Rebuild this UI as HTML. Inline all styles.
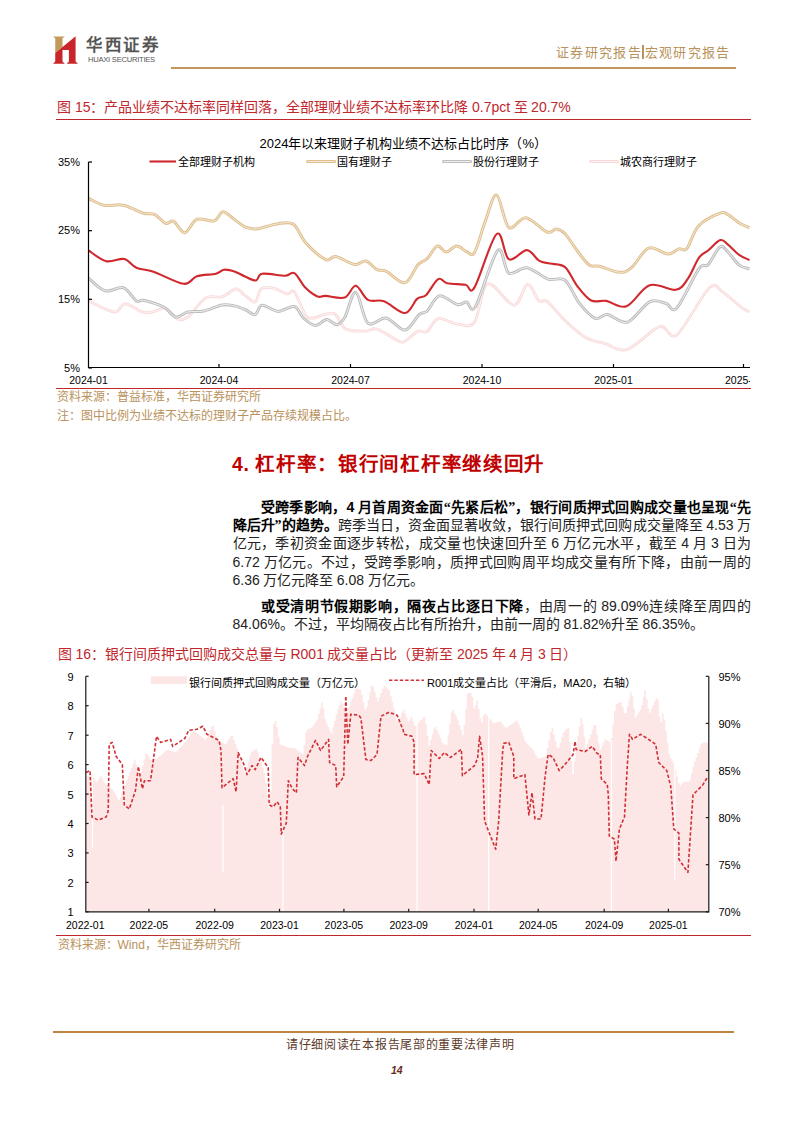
<!DOCTYPE html>
<html lang="zh-CN"><head><meta charset="utf-8">
<style>
html,body{margin:0;padding:0;background:#fff;}
body{width:794px;height:1123px;position:relative;overflow:hidden;font-family:"Liberation Serif",serif;color:#000;}
.abs{position:absolute;}
.t{position:absolute;white-space:nowrap;line-height:1;}
.sans{font-family:"Liberation Sans",sans-serif;}
.cap{color:#c0272d;font-size:14px;}
.src{color:#b9925c;font-size:12px;}
.ln{position:absolute;left:232.5px;width:518.5px;font-size:14px;line-height:18px;color:#222;white-space:nowrap;text-align:justify;text-align-last:justify;}
.ln.nl{text-align-last:left;}
b{font-weight:bold;color:#000;}
.ax{font-family:"Liberation Sans",sans-serif;font-size:10.5px;color:#000;line-height:1;position:absolute;white-space:nowrap;}
</style></head><body>
<!-- header -->
<svg class="abs" style="left:48px;top:32px" width="36" height="36" viewBox="0 0 36 36">
<path d="M5,4.4 H16.8 L14.5,6.3 V15 L7.25,20.9 V6.3 Z" fill="#c39a5a"/>
<path d="M7.25,20.9 L27.6,4.3 V29.6 L30,31.7 H18.6 L20.9,29.6 V17.9 H14.5 V29.6 L16.8,31.7 H5 L7.25,29.6 Z" fill="#c8262b"/>
</svg>
<div class="t" style="left:86px;top:37.5px;font-size:16.5px;font-weight:bold;color:#555;letter-spacing:1.6px;">华西证券</div>
<div class="t sans" style="left:88px;top:56.3px;font-size:7.6px;color:#555;letter-spacing:-0.25px;">HUAXI SECURITIES</div>
<div class="abs" style="left:171px;top:67px;width:565px;height:2px;background:#c5955a;"></div>
<div class="t" style="left:556px;top:45px;font-size:13px;color:#b9925c;letter-spacing:1.35px;">证券研究报告<span style="display:inline-block;width:1.6px;height:14px;background:#b9925c;vertical-align:-2px;margin:0 1px 0 0"></span>宏观研究报告</div>

<!-- figure 15 caption -->
<div class="t cap" style="left:57px;top:100px;"><span class="sans">图 15</span>：产品业绩不达标率同样回落，全部理财业绩不达标率环比降 <span class="sans">0.7pct</span> 至 <span class="sans">20.7%</span></div>
<div class="abs" style="left:56px;top:119px;width:695px;height:1px;background:#c0272d;"></div>

<svg class="abs" style="left:0;top:0" width="794" height="420" viewBox="0 0 794 420">
<path d="M88.6,300.9 C92.9,302.8 108.1,311.5 114.2,312.0 C120.3,312.5 120.4,303.8 125.3,303.9 C130.2,304.0 138.5,311.1 143.4,312.4 C148.3,313.6 150.8,312.1 154.5,311.4 C158.2,310.7 161.7,306.7 165.6,308.0 C169.5,309.3 174.0,317.5 177.7,319.0 C181.4,320.5 183.1,320.5 187.8,317.0 C192.5,313.5 200.2,301.2 205.9,297.9 C211.6,294.5 217.0,298.4 222.0,296.9 C227.0,295.4 232.3,289.1 236.1,288.8 C239.9,288.6 241.8,293.2 245.0,295.4 C248.2,297.6 252.4,303.0 255.1,301.9 C257.8,300.8 258.1,291.1 261.1,288.8 C264.1,286.5 268.8,287.4 273.2,288.2 C277.6,289.0 283.8,293.3 287.3,293.9 C290.8,294.5 291.4,288.3 294.4,291.8 C297.4,295.3 302.3,310.6 305.5,315.0 C308.7,319.4 308.8,318.3 313.5,318.0 C318.2,317.7 328.3,311.5 333.7,313.4 C339.1,315.2 340.4,326.2 345.8,329.1 C351.2,332.1 360.7,331.1 365.9,331.1 C371.1,331.1 371.6,327.5 377.0,329.1 C382.4,330.7 393.4,338.8 398.1,340.8 C402.8,342.8 401.7,342.8 405.0,341.2 C408.3,339.6 414.4,332.7 418.1,331.1 C421.8,329.5 423.9,333.6 427.2,331.5 C430.5,329.4 433.2,319.8 438.2,318.6 C443.2,317.4 451.3,323.5 457.4,324.1 C463.4,324.7 469.5,328.8 474.5,322.1 C479.5,315.4 481.1,286.6 487.6,283.8 C494.2,281.0 507.1,305.2 513.8,305.3 C520.4,305.4 523.3,285.1 527.5,284.4 C531.7,283.7 535.7,298.1 539.0,300.9 C542.3,303.7 542.8,298.0 547.1,301.3 C551.4,304.6 558.6,314.5 565.0,320.5 C571.4,326.5 578.5,333.3 585.2,337.2 C591.9,341.1 598.2,341.6 605.3,343.6 C612.3,345.6 618.4,352.1 627.5,349.3 C636.6,346.5 651.5,329.1 659.7,326.7 C667.9,324.3 668.5,341.2 676.8,334.8 C685.0,328.4 701.6,295.1 709.2,288.0 C716.8,280.9 717.1,288.7 722.4,291.9 C727.7,295.1 736.6,303.9 741.1,307.2 C745.6,310.5 748.1,311.1 749.5,311.9" fill="none" stroke="#f9d9d9" stroke-width="2.8" stroke-linejoin="round"/>
<path d="M88.6,300.9 C92.9,302.8 108.1,311.5 114.2,312.0 C120.3,312.5 120.4,303.8 125.3,303.9 C130.2,304.0 138.5,311.1 143.4,312.4 C148.3,313.6 150.8,312.1 154.5,311.4 C158.2,310.7 161.7,306.7 165.6,308.0 C169.5,309.3 174.0,317.5 177.7,319.0 C181.4,320.5 183.1,320.5 187.8,317.0 C192.5,313.5 200.2,301.2 205.9,297.9 C211.6,294.5 217.0,298.4 222.0,296.9 C227.0,295.4 232.3,289.1 236.1,288.8 C239.9,288.6 241.8,293.2 245.0,295.4 C248.2,297.6 252.4,303.0 255.1,301.9 C257.8,300.8 258.1,291.1 261.1,288.8 C264.1,286.5 268.8,287.4 273.2,288.2 C277.6,289.0 283.8,293.3 287.3,293.9 C290.8,294.5 291.4,288.3 294.4,291.8 C297.4,295.3 302.3,310.6 305.5,315.0 C308.7,319.4 308.8,318.3 313.5,318.0 C318.2,317.7 328.3,311.5 333.7,313.4 C339.1,315.2 340.4,326.2 345.8,329.1 C351.2,332.1 360.7,331.1 365.9,331.1 C371.1,331.1 371.6,327.5 377.0,329.1 C382.4,330.7 393.4,338.8 398.1,340.8 C402.8,342.8 401.7,342.8 405.0,341.2 C408.3,339.6 414.4,332.7 418.1,331.1 C421.8,329.5 423.9,333.6 427.2,331.5 C430.5,329.4 433.2,319.8 438.2,318.6 C443.2,317.4 451.3,323.5 457.4,324.1 C463.4,324.7 469.5,328.8 474.5,322.1 C479.5,315.4 481.1,286.6 487.6,283.8 C494.2,281.0 507.1,305.2 513.8,305.3 C520.4,305.4 523.3,285.1 527.5,284.4 C531.7,283.7 535.7,298.1 539.0,300.9 C542.3,303.7 542.8,298.0 547.1,301.3 C551.4,304.6 558.6,314.5 565.0,320.5 C571.4,326.5 578.5,333.3 585.2,337.2 C591.9,341.1 598.2,341.6 605.3,343.6 C612.3,345.6 618.4,352.1 627.5,349.3 C636.6,346.5 651.5,329.1 659.7,326.7 C667.9,324.3 668.5,341.2 676.8,334.8 C685.0,328.4 701.6,295.1 709.2,288.0 C716.8,280.9 717.1,288.7 722.4,291.9 C727.7,295.1 736.6,303.9 741.1,307.2 C745.6,310.5 748.1,311.1 749.5,311.9" fill="none" stroke="#fff5f5" stroke-width="1" stroke-linejoin="round"/>
<path d="M88.6,278.1 C91.4,280.2 99.4,289.2 105.2,290.8 C111.0,292.4 118.1,286.1 123.3,287.8 C128.5,289.5 133.1,298.8 136.4,300.9 C139.8,303.0 138.9,299.3 143.4,300.3 C147.9,301.3 158.2,304.2 163.6,307.0 C169.0,309.8 171.7,316.2 175.7,317.0 C179.7,317.8 183.1,313.0 187.8,312.0 C192.5,311.0 198.2,312.2 203.9,311.0 C209.6,309.8 217.0,305.8 222.0,304.9 C227.0,304.0 230.3,305.1 234.1,305.9 C237.9,306.7 241.5,308.1 245.0,309.5 C248.5,310.9 252.2,315.3 255.1,314.6 C257.9,313.9 258.2,305.8 262.1,305.3 C266.0,304.8 272.8,311.2 278.2,311.4 C283.6,311.6 290.2,305.4 294.4,306.5 C298.6,307.6 299.9,314.8 303.4,318.0 C306.9,321.2 311.6,325.2 315.5,325.5 C319.4,325.8 323.1,319.7 326.6,319.6 C330.1,319.5 333.7,325.0 336.7,324.7 C339.7,324.4 341.5,323.0 344.7,317.6 C347.9,312.2 351.9,291.5 355.8,292.4 C359.7,293.3 362.8,318.8 367.9,323.1 C372.9,327.4 379.9,316.8 386.1,318.0 C392.3,319.2 399.5,330.7 405.0,330.1 C410.5,329.5 415.4,317.8 419.1,314.6 C422.8,311.4 423.8,314.1 427.2,311.0 C430.6,307.9 434.3,297.0 439.3,295.9 C444.3,294.8 452.9,303.5 457.4,304.5 C461.9,305.5 463.5,301.6 466.5,301.9 C469.5,302.2 470.3,315.1 475.5,306.5 C480.7,297.9 492.1,256.1 497.7,250.5 C503.2,244.9 503.9,270.2 508.8,273.1 C513.7,276.0 520.4,266.7 526.9,267.7 C533.4,268.7 541.8,277.0 548.1,279.1 C554.5,281.2 559.8,276.3 565.0,280.3 C570.2,284.3 574.1,296.5 579.1,302.9 C584.1,309.2 590.5,316.4 595.2,318.4 C599.9,320.3 601.9,314.0 607.3,314.6 C612.7,315.2 620.5,324.2 627.5,322.1 C634.5,320.0 643.2,305.0 649.6,301.9 C656.0,298.8 661.3,302.3 665.8,303.3 C670.3,304.3 671.3,313.8 676.8,308.0 C682.3,302.2 693.8,275.9 699.0,268.7 C704.2,261.5 704.6,268.2 708.1,264.6 C711.6,261.0 716.7,249.0 720.0,246.9 C723.3,244.8 724.8,249.0 728.0,252.0 C731.2,255.0 735.6,262.3 739.2,265.1 C742.8,267.9 747.8,268.3 749.5,268.9" fill="none" stroke="#bdbdbd" stroke-width="3" stroke-linejoin="round"/>
<path d="M88.6,278.1 C91.4,280.2 99.4,289.2 105.2,290.8 C111.0,292.4 118.1,286.1 123.3,287.8 C128.5,289.5 133.1,298.8 136.4,300.9 C139.8,303.0 138.9,299.3 143.4,300.3 C147.9,301.3 158.2,304.2 163.6,307.0 C169.0,309.8 171.7,316.2 175.7,317.0 C179.7,317.8 183.1,313.0 187.8,312.0 C192.5,311.0 198.2,312.2 203.9,311.0 C209.6,309.8 217.0,305.8 222.0,304.9 C227.0,304.0 230.3,305.1 234.1,305.9 C237.9,306.7 241.5,308.1 245.0,309.5 C248.5,310.9 252.2,315.3 255.1,314.6 C257.9,313.9 258.2,305.8 262.1,305.3 C266.0,304.8 272.8,311.2 278.2,311.4 C283.6,311.6 290.2,305.4 294.4,306.5 C298.6,307.6 299.9,314.8 303.4,318.0 C306.9,321.2 311.6,325.2 315.5,325.5 C319.4,325.8 323.1,319.7 326.6,319.6 C330.1,319.5 333.7,325.0 336.7,324.7 C339.7,324.4 341.5,323.0 344.7,317.6 C347.9,312.2 351.9,291.5 355.8,292.4 C359.7,293.3 362.8,318.8 367.9,323.1 C372.9,327.4 379.9,316.8 386.1,318.0 C392.3,319.2 399.5,330.7 405.0,330.1 C410.5,329.5 415.4,317.8 419.1,314.6 C422.8,311.4 423.8,314.1 427.2,311.0 C430.6,307.9 434.3,297.0 439.3,295.9 C444.3,294.8 452.9,303.5 457.4,304.5 C461.9,305.5 463.5,301.6 466.5,301.9 C469.5,302.2 470.3,315.1 475.5,306.5 C480.7,297.9 492.1,256.1 497.7,250.5 C503.2,244.9 503.9,270.2 508.8,273.1 C513.7,276.0 520.4,266.7 526.9,267.7 C533.4,268.7 541.8,277.0 548.1,279.1 C554.5,281.2 559.8,276.3 565.0,280.3 C570.2,284.3 574.1,296.5 579.1,302.9 C584.1,309.2 590.5,316.4 595.2,318.4 C599.9,320.3 601.9,314.0 607.3,314.6 C612.7,315.2 620.5,324.2 627.5,322.1 C634.5,320.0 643.2,305.0 649.6,301.9 C656.0,298.8 661.3,302.3 665.8,303.3 C670.3,304.3 671.3,313.8 676.8,308.0 C682.3,302.2 693.8,275.9 699.0,268.7 C704.2,261.5 704.6,268.2 708.1,264.6 C711.6,261.0 716.7,249.0 720.0,246.9 C723.3,244.8 724.8,249.0 728.0,252.0 C731.2,255.0 735.6,262.3 739.2,265.1 C742.8,267.9 747.8,268.3 749.5,268.9" fill="none" stroke="#f0f0f0" stroke-width="1" stroke-linejoin="round"/>
<path d="M88.6,198.5 C91.2,199.6 98.3,204.1 104.1,205.2 C109.9,206.3 116.8,203.9 123.3,205.2 C129.8,206.5 138.2,211.7 143.4,213.2 C148.6,214.7 150.8,212.6 154.5,214.3 C158.2,216.0 162.4,222.1 165.6,223.3 C168.8,224.5 170.5,219.7 173.7,221.3 C176.9,222.9 180.8,233.1 184.7,232.8 C188.5,232.5 191.9,221.3 196.8,219.3 C201.7,217.3 209.6,222.2 214.0,220.9 C218.4,219.7 219.7,212.1 223.0,211.8 C226.3,211.5 230.4,216.8 234.1,219.3 C237.8,221.8 241.3,225.2 245.0,226.8 C248.7,228.4 250.7,229.5 256.1,229.0 C261.5,228.5 271.0,224.7 277.2,223.9 C283.4,223.1 288.7,221.2 293.4,224.3 C298.1,227.4 300.1,236.6 305.5,242.5 C310.9,248.4 320.6,257.2 325.6,259.6 C330.6,262.0 330.8,255.8 335.7,256.6 C340.6,257.4 349.8,263.9 354.8,264.6 C359.8,265.3 362.2,260.1 365.9,261.0 C369.6,261.9 373.6,268.0 377.0,269.7 C380.4,271.4 381.4,268.9 386.1,271.1 C390.8,273.3 399.7,283.9 405.0,282.8 C410.3,281.7 414.4,268.6 418.1,264.6 C421.8,260.6 424.0,261.7 427.2,258.6 C430.4,255.5 434.0,247.2 437.2,246.1 C440.4,245.0 443.1,252.1 446.3,252.1 C449.5,252.1 453.0,246.2 456.4,246.1 C459.8,246.0 463.5,250.4 466.5,251.5 C469.5,252.6 471.3,257.7 474.5,252.5 C477.7,247.3 481.9,229.9 485.6,220.3 C489.3,210.7 492.8,193.9 496.7,195.1 C500.6,196.3 503.9,223.6 508.8,227.4 C513.7,231.2 519.5,216.9 525.9,217.7 C532.3,218.5 542.1,230.1 547.1,232.0 C552.1,233.9 553.1,228.7 556.1,229.0 C559.1,229.3 561.5,230.1 565.0,233.7 C568.5,237.3 573.1,245.3 577.1,250.5 C581.1,255.7 585.5,262.4 589.2,265.0 C592.9,267.6 594.3,265.0 599.3,266.2 C604.3,267.4 614.0,272.1 619.4,272.3 C624.8,272.6 626.6,271.7 631.5,267.7 C636.4,263.7 642.6,250.4 648.6,248.1 C654.6,245.8 662.8,253.9 667.8,254.0 C672.8,254.1 675.7,249.8 678.9,248.9 C682.1,248.0 683.6,252.3 686.9,248.5 C690.2,244.7 693.0,231.9 698.5,226.0 C704.0,220.1 715.1,215.1 720.0,213.2 C724.9,211.3 724.8,213.0 728.0,214.6 C731.2,216.2 735.6,220.8 739.2,223.0 C742.8,225.2 747.8,226.9 749.5,227.7" fill="none" stroke="#dfbf8f" stroke-width="3" stroke-linejoin="round"/>
<path d="M88.6,198.5 C91.2,199.6 98.3,204.1 104.1,205.2 C109.9,206.3 116.8,203.9 123.3,205.2 C129.8,206.5 138.2,211.7 143.4,213.2 C148.6,214.7 150.8,212.6 154.5,214.3 C158.2,216.0 162.4,222.1 165.6,223.3 C168.8,224.5 170.5,219.7 173.7,221.3 C176.9,222.9 180.8,233.1 184.7,232.8 C188.5,232.5 191.9,221.3 196.8,219.3 C201.7,217.3 209.6,222.2 214.0,220.9 C218.4,219.7 219.7,212.1 223.0,211.8 C226.3,211.5 230.4,216.8 234.1,219.3 C237.8,221.8 241.3,225.2 245.0,226.8 C248.7,228.4 250.7,229.5 256.1,229.0 C261.5,228.5 271.0,224.7 277.2,223.9 C283.4,223.1 288.7,221.2 293.4,224.3 C298.1,227.4 300.1,236.6 305.5,242.5 C310.9,248.4 320.6,257.2 325.6,259.6 C330.6,262.0 330.8,255.8 335.7,256.6 C340.6,257.4 349.8,263.9 354.8,264.6 C359.8,265.3 362.2,260.1 365.9,261.0 C369.6,261.9 373.6,268.0 377.0,269.7 C380.4,271.4 381.4,268.9 386.1,271.1 C390.8,273.3 399.7,283.9 405.0,282.8 C410.3,281.7 414.4,268.6 418.1,264.6 C421.8,260.6 424.0,261.7 427.2,258.6 C430.4,255.5 434.0,247.2 437.2,246.1 C440.4,245.0 443.1,252.1 446.3,252.1 C449.5,252.1 453.0,246.2 456.4,246.1 C459.8,246.0 463.5,250.4 466.5,251.5 C469.5,252.6 471.3,257.7 474.5,252.5 C477.7,247.3 481.9,229.9 485.6,220.3 C489.3,210.7 492.8,193.9 496.7,195.1 C500.6,196.3 503.9,223.6 508.8,227.4 C513.7,231.2 519.5,216.9 525.9,217.7 C532.3,218.5 542.1,230.1 547.1,232.0 C552.1,233.9 553.1,228.7 556.1,229.0 C559.1,229.3 561.5,230.1 565.0,233.7 C568.5,237.3 573.1,245.3 577.1,250.5 C581.1,255.7 585.5,262.4 589.2,265.0 C592.9,267.6 594.3,265.0 599.3,266.2 C604.3,267.4 614.0,272.1 619.4,272.3 C624.8,272.6 626.6,271.7 631.5,267.7 C636.4,263.7 642.6,250.4 648.6,248.1 C654.6,245.8 662.8,253.9 667.8,254.0 C672.8,254.1 675.7,249.8 678.9,248.9 C682.1,248.0 683.6,252.3 686.9,248.5 C690.2,244.7 693.0,231.9 698.5,226.0 C704.0,220.1 715.1,215.1 720.0,213.2 C724.9,211.3 724.8,213.0 728.0,214.6 C731.2,216.2 735.6,220.8 739.2,223.0 C742.8,225.2 747.8,226.9 749.5,227.7" fill="none" stroke="#f6ead6" stroke-width="1" stroke-linejoin="round"/>
<path d="M88.6,250.5 C91.5,252.3 100.2,259.8 106.2,261.2 C112.2,262.6 119.3,257.9 124.3,259.0 C129.3,260.1 131.5,265.6 136.4,267.7 C141.3,269.8 145.6,269.0 153.5,271.7 C161.4,274.4 176.5,283.0 183.7,283.8 C190.9,284.6 191.4,278.0 196.8,276.3 C202.2,274.6 211.5,274.8 216.0,273.7 C220.5,272.6 220.8,270.0 224.0,269.7 C227.2,269.4 231.6,270.6 235.1,271.7 C238.6,272.8 241.5,275.1 245.0,276.5 C248.5,277.9 253.3,280.9 256.1,280.4 C259.0,279.9 257.2,274.5 262.1,273.7 C267.0,272.9 279.9,275.8 285.3,275.7 C290.7,275.6 291.0,271.1 294.4,273.1 C297.8,275.1 301.6,283.9 305.5,287.8 C309.4,291.7 314.1,295.1 317.5,296.5 C320.9,297.9 321.1,295.7 325.6,295.9 C330.1,296.1 339.7,299.2 344.7,297.5 C349.7,295.8 351.9,285.4 355.8,285.8 C359.7,286.2 363.2,297.3 367.9,299.9 C372.6,302.5 377.8,299.1 384.0,301.3 C390.2,303.5 399.5,313.4 405.0,313.0 C410.5,312.6 413.6,301.9 417.1,298.9 C420.6,295.9 422.7,298.2 426.2,294.9 C429.7,291.6 434.7,281.1 438.2,279.1 C441.7,277.2 442.8,282.2 447.3,283.2 C451.9,284.1 461.0,284.1 465.5,284.8 C470.0,285.5 469.3,295.9 474.5,287.4 C479.7,278.9 491.0,238.7 496.7,234.0 C502.4,229.3 503.8,256.5 508.8,259.2 C513.8,261.9 521.9,249.9 526.9,250.1 C531.9,250.3 535.1,258.4 539.0,260.6 C542.9,262.9 545.8,262.5 550.1,263.6 C554.4,264.7 560.5,263.4 565.0,267.1 C569.5,270.8 572.7,280.2 577.1,285.8 C581.5,291.4 586.3,298.0 591.2,300.5 C596.1,303.0 600.4,299.9 606.3,300.9 C612.2,301.9 619.3,308.9 626.5,306.3 C633.7,303.7 641.4,287.9 649.6,285.2 C657.8,282.4 669.4,290.9 675.8,289.8 C682.2,288.7 684.0,284.1 687.9,278.7 C691.8,273.3 695.6,262.3 699.0,257.6 C702.4,252.9 704.6,253.4 708.1,250.5 C711.6,247.6 717.0,241.1 720.3,240.1 C723.6,239.1 724.9,242.1 728.0,244.6 C731.1,247.1 735.6,252.3 739.2,254.9 C742.8,257.5 747.8,259.2 749.5,260.1" fill="none" stroke="#cf292e" stroke-width="2.1" stroke-linejoin="round"/>
<path d="M88.5,162 V367.5 H750" fill="none" stroke="#000" stroke-width="1.2"/>
<path d="M88.5,162.0 H92" stroke="#000" stroke-width="1.2"/>
<path d="M88.5,230.7 H92" stroke="#000" stroke-width="1.2"/>
<path d="M88.5,299.3 H92" stroke="#000" stroke-width="1.2"/>
<path d="M88.5,368.0 H92" stroke="#000" stroke-width="1.2"/>
<path d="M219.0,367.5 V364" stroke="#000" stroke-width="1.2"/>
<path d="M350.5,367.5 V364" stroke="#000" stroke-width="1.2"/>
<path d="M482.0,367.5 V364" stroke="#000" stroke-width="1.2"/>
<path d="M613.5,367.5 V364" stroke="#000" stroke-width="1.2"/>
<path d="M743.5,367.5 V364" stroke="#000" stroke-width="1.2"/>
<path d="M149.5,161.5 H176" stroke="#cf292e" stroke-width="2.1"/>
<path d="M307.5,161.5 H334.5" stroke="#dfbf8f" stroke-width="3" stroke-linecap="round"/><path d="M307.5,161.5 H334.5" stroke="#f6ead6" stroke-width="1"/>
<path d="M443.5,161.5 H470.5" stroke="#bdbdbd" stroke-width="3" stroke-linecap="round"/><path d="M443.5,161.5 H470.5" stroke="#f0f0f0" stroke-width="1"/>
<path d="M590.5,161.5 H617.5" stroke="#f9d9d9" stroke-width="2.8" stroke-linecap="round"/><path d="M590.5,161.5 H617.5" stroke="#fff5f5" stroke-width="1"/>
</svg>
<div class="t sans" style="left:259.5px;top:137px;font-size:13px;color:#000;">2024年以来理财子机构业绩不达标占比时序（%）</div>
<div class="t sans" style="left:178px;top:157px;font-size:11px;">全部理财子机构</div>
<div class="t sans" style="left:336.5px;top:157px;font-size:11px;">国有理财子</div>
<div class="t sans" style="left:472.5px;top:157px;font-size:11px;">股份行理财子</div>
<div class="t sans" style="left:620px;top:157px;font-size:11px;">城农商行理财子</div>
<div class="ax" style="left:38px;width:42px;text-align:right;top:156.5px;font-size:11px;">35%</div>
<div class="ax" style="left:38px;width:42px;text-align:right;top:225.2px;font-size:11px;">25%</div>
<div class="ax" style="left:38px;width:42px;text-align:right;top:293.8px;font-size:11px;">15%</div>
<div class="ax" style="left:38px;width:42px;text-align:right;top:362.5px;font-size:11px;">5%</div>
<div class="ax" style="left:48.5px;width:80px;text-align:center;top:374.5px;">2024-01</div>
<div class="ax" style="left:179px;width:80px;text-align:center;top:374.5px;">2024-04</div>
<div class="ax" style="left:310.5px;width:80px;text-align:center;top:374.5px;">2024-07</div>
<div class="ax" style="left:442px;width:80px;text-align:center;top:374.5px;">2024-10</div>
<div class="ax" style="left:573.5px;width:80px;text-align:center;top:374.5px;">2025-01</div>
<div class="abs" style="left:700px;top:370px;width:50px;height:20px;overflow:hidden;"><div class="ax" style="left:25px;top:4.5px;">2025-04</div></div>
<div class="abs" style="left:56px;top:388px;width:695px;height:1px;background:#c0272d;"></div>
<div class="t src" style="left:56.5px;top:391px;">资料来源：普益标准，华西证券研究所</div>
<div class="t src" style="left:56.5px;top:410px;">注：图中比例为业绩不达标的理财子产品存续规模占比。</div>

<!-- section heading -->
<div class="t" style="left:232px;top:455px;font-size:19.5px;font-weight:bold;color:#c00000;letter-spacing:0.7px;"><span class="sans">4.</span> 杠杆率：银行间杠杆率继续回升</div>

<!-- paragraph 1 -->
<div class="ln" style="top:498px;"><span style="display:inline-block;width:28px"></span><b>受跨季影响，<span class="sans">4</span> 月首周资金面“先紧后松”，银行间质押式回购成交量也呈现“先</b></div>
<div class="ln" style="top:516.2px;"><b>降后升”的趋势。</b>跨季当日，资金面显著收敛，银行间质押式回购成交量降至 <span class="sans">4.53</span> 万</div>
<div class="ln" style="top:534.4px;">亿元，季初资金面逐步转松，成交量也快速回升至 <span class="sans">6</span> 万亿元水平，截至 <span class="sans">4</span> 月 <span class="sans">3</span> 日为</div>
<div class="ln" style="top:552.6px;"><span class="sans">6.72</span> 万亿元。不过，受跨季影响，质押式回购周平均成交量有所下降，由前一周的</div>
<div class="ln nl" style="top:570.8px;"><span class="sans">6.36</span> 万亿元降至 <span class="sans">6.08</span> 万亿元。</div>
<!-- paragraph 2 -->
<div class="ln" style="top:596.5px;"><span style="display:inline-block;width:28px"></span><b>或受清明节假期影响，隔夜占比逐日下降</b>，由周一的 <span class="sans">89.09%</span>连续降至周四的</div>
<div class="ln nl" style="top:614.7px;"><span class="sans">84.06%</span>。不过，平均隔夜占比有所抬升，由前一周的 <span class="sans">81.82%</span>升至 <span class="sans">86.35%</span>。</div>

<!-- figure 16 caption -->
<div class="t cap" style="left:57.5px;top:647px;"><span class="sans">图 16</span>：银行间质押式回购成交总量与 <span class="sans">R001</span> 成交量占比（更新至 <span class="sans">2025</span> 年 <span class="sans">4</span> 月 <span class="sans">3</span> 日）</div>

<svg class="abs" style="left:0;top:640" width="794" height="300" viewBox="0 640 794 300">
<path d="M86.0,911.5 L86.0,776.6 L87.6,776.6 L87.6,775.2 L89.2,775.2 L89.2,773.7 L90.8,773.7 L90.8,774.3 L92.4,774.3 L92.4,776.8 L94.0,776.8 L94.0,779.4 L95.6,779.4 L95.6,781.9 L97.2,781.9 L97.2,780.7 L98.8,780.7 L98.8,777.9 L100.4,777.9 L100.4,776.2 L102.0,776.2 L102.0,779.4 L103.6,779.4 L103.6,782.5 L105.2,782.5 L105.2,784.5 L106.8,784.5 L106.8,785.6 L108.4,785.6 L108.4,786.9 L110.0,786.9 L110.0,788.0 L111.6,788.0 L111.6,789.2 L113.2,789.2 L113.2,791.5 L114.8,791.5 L114.8,794.4 L116.4,794.4 L116.4,797.3 L118.0,797.3 L118.0,800.3 L119.6,800.3 L119.6,797.3 L121.2,797.3 L121.2,793.0 L122.8,793.0 L122.8,788.7 L124.4,788.7 L124.4,784.4 L126.0,784.4 L126.0,780.3 L127.6,780.3 L127.6,776.1 L129.2,776.1 L129.2,772.0 L130.8,772.0 L130.8,767.8 L132.4,767.8 L132.4,763.7 L134.0,763.7 L134.0,759.5 L135.6,759.5 L135.6,764.6 L137.2,764.6 L137.2,772.6 L138.8,772.6 L138.8,777.2 L140.4,777.2 L140.4,771.3 L142.0,771.3 L142.0,765.4 L143.6,765.4 L143.6,759.5 L145.2,759.5 L145.2,753.6 L146.8,753.6 L146.8,754.6 L148.4,754.6 L148.4,757.1 L150.0,757.1 L150.0,759.7 L151.6,759.7 L151.6,760.1 L153.2,760.1 L153.2,759.6 L154.8,759.6 L154.8,759.1 L156.4,759.1 L156.4,758.5 L158.0,758.5 L158.0,757.1 L159.6,757.1 L159.6,755.7 L161.2,755.7 L161.2,754.3 L162.8,754.3 L162.8,752.8 L164.4,752.8 L164.4,751.4 L166.0,751.4 L166.0,749.9 L167.6,749.9 L167.6,749.8 L169.2,749.8 L169.2,750.4 L170.8,750.4 L170.8,751.0 L172.4,751.0 L172.4,751.6 L174.0,751.6 L174.0,752.2 L175.6,752.2 L175.6,751.6 L177.2,751.6 L177.2,750.0 L178.8,750.0 L178.8,748.3 L180.4,748.3 L180.4,746.7 L182.0,746.7 L182.0,745.1 L183.6,745.1 L183.6,743.1 L185.2,743.1 L185.2,740.9 L186.8,740.9 L186.8,738.7 L188.4,738.7 L188.4,736.4 L190.0,736.4 L190.0,734.2 L191.6,734.2 L191.6,732.0 L193.2,732.0 L193.2,730.6 L194.8,730.6 L194.8,732.0 L196.4,732.0 L196.4,733.3 L198.0,733.3 L198.0,734.6 L199.6,734.6 L199.6,736.0 L201.2,736.0 L201.2,737.3 L202.8,737.3 L202.8,738.6 L204.4,738.6 L204.4,740.0 L206.0,740.0 L206.0,737.9 L207.6,737.9 L207.6,734.3 L209.2,734.3 L209.2,730.6 L210.8,730.6 L210.8,727.0 L212.4,727.0 L212.4,725.6 L214.0,725.6 L214.0,730.7 L215.6,730.7 L215.6,735.9 L217.2,735.9 L217.2,740.5 L218.8,740.5 L218.8,741.3 L220.4,741.3 L220.4,742.1 L222.0,742.1 L222.0,742.9 L223.6,742.9 L223.6,743.7 L225.2,743.7 L225.2,744.2 L226.8,744.2 L226.8,741.5 L228.4,741.5 L228.4,738.8 L230.0,738.8 L230.0,736.2 L231.6,736.2 L231.6,735.6 L233.2,735.6 L233.2,739.9 L234.8,739.9 L234.8,744.1 L236.4,744.1 L236.4,748.4 L238.0,748.4 L238.0,753.4 L239.6,753.4 L239.6,759.1 L241.2,759.1 L241.2,764.9 L242.8,764.9 L242.8,770.7 L244.4,770.7 L244.4,773.5 L246.0,773.5 L246.0,767.5 L247.6,767.5 L247.6,761.5 L249.2,761.5 L249.2,755.5 L250.8,755.5 L250.8,752.0 L252.4,752.0 L252.4,750.9 L254.0,750.9 L254.0,749.8 L255.6,749.8 L255.6,748.7 L257.2,748.7 L257.2,752.0 L258.8,752.0 L258.8,757.1 L260.4,757.1 L260.4,762.3 L262.0,762.3 L262.0,767.5 L263.6,767.5 L263.6,772.7 L265.2,772.7 L265.2,782.7 L266.8,782.7 L266.8,795.6 L268.4,795.6 L268.4,808.5 L270.0,808.5 L270.0,791.3 L271.6,791.3 L271.6,744.0 L273.2,744.0 L273.2,724.3 L274.8,724.3 L274.8,721.0 L276.4,721.0 L276.4,727.3 L278.0,727.3 L278.0,736.7 L279.6,736.7 L279.6,744.5 L281.2,744.5 L281.2,745.1 L282.8,745.1 L282.8,745.7 L284.4,745.7 L284.4,746.3 L286.0,746.3 L286.0,746.9 L287.6,746.9 L287.6,747.4 L289.2,747.4 L289.2,747.7 L290.8,747.7 L290.8,747.9 L292.4,747.9 L292.4,748.1 L294.0,748.1 L294.0,748.3 L295.6,748.3 L295.6,749.3 L297.2,749.3 L297.2,750.5 L298.8,750.5 L298.8,751.8 L300.4,751.8 L300.4,753.0 L302.0,753.0 L302.0,754.2 L303.6,754.2 L303.6,745.1 L305.2,745.1 L305.2,732.6 L306.8,732.6 L306.8,729.6 L308.4,729.6 L308.4,728.6 L310.0,728.6 L310.0,727.7 L311.6,727.7 L311.6,726.8 L313.2,726.8 L313.2,725.1 L314.8,725.1 L314.8,722.2 L316.4,722.2 L316.4,719.4 L318.0,719.4 L318.0,713.9 L319.6,713.9 L319.6,708.2 L321.2,708.2 L321.2,702.5 L322.8,702.5 L322.8,708.7 L324.4,708.7 L324.4,718.9 L326.0,718.9 L326.0,723.5 L327.6,723.5 L327.6,727.3 L329.2,727.3 L329.2,731.0 L330.8,731.0 L330.8,733.5 L332.4,733.5 L332.4,727.2 L334.0,727.2 L334.0,720.9 L335.6,720.9 L335.6,714.5 L337.2,714.5 L337.2,708.9 L338.8,708.9 L338.8,704.9 L340.4,704.9 L340.4,700.9 L342.0,700.9 L342.0,703.7 L343.6,703.7 L343.6,708.1 L345.2,708.1 L345.2,712.5 L346.8,712.5 L346.8,711.4 L348.4,711.4 L348.4,707.0 L350.0,707.0 L350.0,702.5 L351.6,702.5 L351.6,698.1 L353.2,698.1 L353.2,693.7 L354.8,693.7 L354.8,689.2 L356.4,689.2 L356.4,688.6 L358.0,688.6 L358.0,689.3 L359.6,689.3 L359.6,689.9 L361.2,689.9 L361.2,694.9 L362.8,694.9 L362.8,702.4 L364.4,702.4 L364.4,709.9 L366.0,709.9 L366.0,707.2 L367.6,707.2 L367.6,699.9 L369.2,699.9 L369.2,692.6 L370.8,692.6 L370.8,685.4 L372.4,685.4 L372.4,686.8 L374.0,686.8 L374.0,692.1 L375.6,692.1 L375.6,697.4 L377.2,697.4 L377.2,701.6 L378.8,701.6 L378.8,697.3 L380.4,697.3 L380.4,693.1 L382.0,693.1 L382.0,688.8 L383.6,688.8 L383.6,685.3 L385.2,685.3 L385.2,686.9 L386.8,686.9 L386.8,688.6 L388.4,688.6 L388.4,690.2 L390.0,690.2 L390.0,696.1 L391.6,696.1 L391.6,702.1 L393.2,702.1 L393.2,708.6 L394.8,708.6 L394.8,715.0 L396.4,715.0 L396.4,721.5 L398.0,721.5 L398.0,721.8 L399.6,721.8 L399.6,717.4 L401.2,717.4 L401.2,712.9 L402.8,712.9 L402.8,710.0 L404.4,710.0 L404.4,713.8 L406.0,713.8 L406.0,717.5 L407.6,717.5 L407.6,721.3 L409.2,721.3 L409.2,719.5 L410.8,719.5 L410.8,716.9 L412.4,716.9 L412.4,721.4 L414.0,721.4 L414.0,726.0 L415.6,726.0 L415.6,724.8 L417.2,724.8 L417.2,723.1 L418.8,723.1 L418.8,721.5 L420.4,721.5 L420.4,719.9 L422.0,719.9 L422.0,718.3 L423.6,718.3 L423.6,716.8 L425.2,716.8 L425.2,723.8 L426.8,723.8 L426.8,735.8 L428.4,735.8 L428.4,745.7 L430.0,745.7 L430.0,740.1 L431.6,740.1 L431.6,734.4 L433.2,734.4 L433.2,728.8 L434.8,728.8 L434.8,726.7 L436.4,726.7 L436.4,730.5 L438.0,730.5 L438.0,734.3 L439.6,734.3 L439.6,738.0 L441.2,738.0 L441.2,741.8 L442.8,741.8 L442.8,744.4 L444.4,744.4 L444.4,744.4 L446.0,744.4 L446.0,744.4 L447.6,744.4 L447.6,735.1 L449.2,735.1 L449.2,723.8 L450.8,723.8 L450.8,712.4 L452.4,712.4 L452.4,710.1 L454.0,710.1 L454.0,713.4 L455.6,713.4 L455.6,716.6 L457.2,716.6 L457.2,720.6 L458.8,720.6 L458.8,725.4 L460.4,725.4 L460.4,730.3 L462.0,730.3 L462.0,735.1 L463.6,735.1 L463.6,724.8 L465.2,724.8 L465.2,709.5 L466.8,709.5 L466.8,694.1 L468.4,694.1 L468.4,692.5 L470.0,692.5 L470.0,692.9 L471.6,692.9 L471.6,696.7 L473.2,696.7 L473.2,708.1 L474.8,708.1 L474.8,705.8 L476.4,705.8 L476.4,700.4 L478.0,700.4 L478.0,709.0 L479.6,709.0 L479.6,718.4 L481.2,718.4 L481.2,721.9 L482.8,721.9 L482.8,715.4 L484.4,715.4 L484.4,713.2 L486.0,713.2 L486.0,715.1 L487.6,715.1 L487.6,717.1 L489.2,717.1 L489.2,719.0 L490.8,719.0 L490.8,721.0 L492.4,721.0 L492.4,722.9 L494.0,722.9 L494.0,722.9 L495.6,722.9 L495.6,722.4 L497.2,722.4 L497.2,721.9 L498.8,721.9 L498.8,721.5 L500.4,721.5 L500.4,722.2 L502.0,722.2 L502.0,724.4 L503.6,724.4 L503.6,726.6 L505.2,726.6 L505.2,728.0 L506.8,728.0 L506.8,726.9 L508.4,726.9 L508.4,725.9 L510.0,725.9 L510.0,724.8 L511.6,724.8 L511.6,723.7 L513.2,723.7 L513.2,722.6 L514.8,722.6 L514.8,721.5 L516.4,721.5 L516.4,720.5 L518.0,720.5 L518.0,723.5 L519.6,723.5 L519.6,727.9 L521.2,727.9 L521.2,732.3 L522.8,732.3 L522.8,736.6 L524.4,736.6 L524.4,741.0 L526.0,741.0 L526.0,743.5 L527.6,743.5 L527.6,745.1 L529.2,745.1 L529.2,746.6 L530.8,746.6 L530.8,748.2 L532.4,748.2 L532.4,750.1 L534.0,750.1 L534.0,753.0 L535.6,753.0 L535.6,756.0 L537.2,756.0 L537.2,758.5 L538.8,758.5 L538.8,758.1 L540.4,758.1 L540.4,757.7 L542.0,757.7 L542.0,757.3 L543.6,757.3 L543.6,756.9 L545.2,756.9 L545.2,756.0 L546.8,756.0 L546.8,747.9 L548.4,747.9 L548.4,739.9 L550.0,739.9 L550.0,731.8 L551.6,731.8 L551.6,728.3 L553.2,728.3 L553.2,734.6 L554.8,734.6 L554.8,741.0 L556.4,741.0 L556.4,747.3 L558.0,747.3 L558.0,747.9 L559.6,747.9 L559.6,742.8 L561.2,742.8 L561.2,737.7 L562.8,737.7 L562.8,732.6 L564.4,732.6 L564.4,730.3 L566.0,730.3 L566.0,729.0 L567.6,729.0 L567.6,727.6 L569.2,727.6 L569.2,741.7 L570.8,741.7 L570.8,761.0 L572.4,761.0 L572.4,774.2 L574.0,774.2 L574.0,761.3 L575.6,761.3 L575.6,748.4 L577.2,748.4 L577.2,735.7 L578.8,735.7 L578.8,726.7 L580.4,726.7 L580.4,717.7 L582.0,717.7 L582.0,724.5 L583.6,724.5 L583.6,736.4 L585.2,736.4 L585.2,748.4 L586.8,748.4 L586.8,743.7 L588.4,743.7 L588.4,739.1 L590.0,739.1 L590.0,734.4 L591.6,734.4 L591.6,729.8 L593.2,729.8 L593.2,725.1 L594.8,725.1 L594.8,725.5 L596.4,725.5 L596.4,734.4 L598.0,734.4 L598.0,743.3 L599.6,743.3 L599.6,749.8 L601.2,749.8 L601.2,746.3 L602.8,746.3 L602.8,742.7 L604.4,742.7 L604.4,739.5 L606.0,739.5 L606.0,740.3 L607.6,740.3 L607.6,741.1 L609.2,741.1 L609.2,741.9 L610.8,741.9 L610.8,738.2 L612.4,738.2 L612.4,724.6 L614.0,724.6 L614.0,711.0 L615.6,711.0 L615.6,703.9 L617.2,703.9 L617.2,703.2 L618.8,703.2 L618.8,702.6 L620.4,702.6 L620.4,701.9 L622.0,701.9 L622.0,707.3 L623.6,707.3 L623.6,713.0 L625.2,713.0 L625.2,713.2 L626.8,713.2 L626.8,706.3 L628.4,706.3 L628.4,699.4 L630.0,699.4 L630.0,692.5 L631.6,692.5 L631.6,696.3 L633.2,696.3 L633.2,708.4 L634.8,708.4 L634.8,717.7 L636.4,717.7 L636.4,715.1 L638.0,715.1 L638.0,712.4 L639.6,712.4 L639.6,709.8 L641.2,709.8 L641.2,705.1 L642.8,705.1 L642.8,697.0 L644.4,697.0 L644.4,690.1 L646.0,690.1 L646.0,699.3 L647.6,699.3 L647.6,708.5 L649.2,708.5 L649.2,712.8 L650.8,712.8 L650.8,709.1 L652.4,709.1 L652.4,705.3 L654.0,705.3 L654.0,701.6 L655.6,701.6 L655.6,697.9 L657.2,697.9 L657.2,699.4 L658.8,699.4 L658.8,716.6 L660.4,716.6 L660.4,722.3 L662.0,722.3 L662.0,713.3 L663.6,713.3 L663.6,719.5 L665.2,719.5 L665.2,730.9 L666.8,730.9 L666.8,742.3 L668.4,742.3 L668.4,753.7 L670.0,753.7 L670.0,758.3 L671.6,758.3 L671.6,760.7 L673.2,760.7 L673.2,764.1 L674.8,764.1 L674.8,770.4 L676.4,770.4 L676.4,776.8 L678.0,776.8 L678.0,783.1 L679.6,783.1 L679.6,785.8 L681.2,785.8 L681.2,783.8 L682.8,783.8 L682.8,781.8 L684.4,781.8 L684.4,781.7 L686.0,781.7 L686.0,781.7 L687.6,781.7 L687.6,781.7 L689.2,781.7 L689.2,780.4 L690.8,780.4 L690.8,773.8 L692.4,773.8 L692.4,767.1 L694.0,767.1 L694.0,761.8 L695.6,761.8 L695.6,757.4 L697.2,757.4 L697.2,752.9 L698.8,752.9 L698.8,748.5 L700.4,748.5 L700.4,744.1 L702.0,744.1 L702.0,742.4 L703.6,742.4 L703.6,742.4 L705.2,742.4 L705.2,742.4 L706.8,742.4 L706.8,742.4 L708.4,742.4  L708.4,911.5 Z" fill="#fde6e6" stroke="none"/>
<path d="M92.5,770.0 V848.0" stroke="#fff" stroke-width="1.2"/>
<path d="M223.0,805.0 V872.0" stroke="#fff" stroke-width="1.2"/>
<path d="M283.0,828.0 V911.0" stroke="#fff" stroke-width="1.2"/>
<path d="M417.1,722.0 V911.0" stroke="#fff" stroke-width="1.2"/>
<path d="M488.6,712.0 V911.0" stroke="#fff" stroke-width="1.2"/>
<path d="M611.4,740.0 V911.0" stroke="#fff" stroke-width="1.2"/>
<path d="M674.8,760.0 V880.0" stroke="#fff" stroke-width="1.2"/>
<path d="M86.0,772.6 L90.0,770.6 L92.0,817.0 L98.1,820.0 L106.2,817.0 L108.2,811.0 L109.2,744.4 L112.2,742.4 L116.2,756.5 L122.3,764.6 L124.3,804.9 L129.3,808.9 L135.4,790.8 L138.4,766.6 L142.4,788.7 L144.5,780.7 L150.5,780.7 L152.5,766.6 L156.5,736.3 L160.6,742.4 L170.6,739.4 L172.7,746.4 L184.8,738.4 L188.8,730.3 L196.8,729.3 L202.9,726.3 L206.9,734.3 L219.0,740.4 L221.0,750.5 L222.0,787.7 L233.1,778.7 L236.1,791.8 L238.2,752.5 L244.0,764.6 L247.0,774.6 L252.1,765.6 L255.1,769.6 L261.1,757.5 L268.2,767.6 L269.2,804.9 L273.2,806.9 L277.2,801.8 L280.3,806.9 L281.3,834.1 L286.3,823.0 L288.3,780.7 L292.4,788.7 L296.4,792.8 L298.0,757.5 L304.5,765.6 L307.5,756.5 L315.5,740.4 L320.6,750.5 L328.6,739.4 L329.6,762.5 L335.7,765.6 L336.7,786.7 L343.7,776.6 L345.8,696.0 L347.8,744.4 L350.8,714.2 L358.9,715.2 L360.9,718.2 L365.9,759.5 L371.0,760.5 L377.0,754.5 L381.0,716.2 L389.1,712.2 L397.1,715.2 L403.2,730.3 L404.0,734.3 L412.1,736.3 L414.1,742.4 L414.1,774.6 L424.2,773.6 L429.2,784.7 L431.2,750.5 L439.3,758.5 L444.3,752.5 L450.3,757.5 L461.4,749.4 L462.4,775.6 L474.5,765.6 L477.6,758.5 L479.6,736.3 L482.6,756.5 L484.6,821.0 L495.7,849.2 L498.7,821.0 L502.7,750.5 L503.7,743.4 L508.8,742.4 L513.8,756.5 L513.8,778.7 L524.9,774.6 L528.9,814.9 L532.0,792.8 L535.0,819.0 L541.0,819.0 L545.1,776.6 L548.1,754.5 L553.1,757.5 L559.2,770.6 L564.0,765.6 L573.1,754.5 L575.1,741.4 L576.1,749.4 L585.2,751.5 L592.2,746.4 L597.2,753.5 L600.3,754.5 L601.3,778.7 L607.3,784.7 L608.3,794.8 L609.3,836.1 L614.4,839.1 L616.0,861.3 L619.4,829.0 L624.5,817.0 L627.5,762.5 L629.5,734.3 L632.5,739.4 L640.6,734.3 L648.6,739.4 L655.7,744.4 L658.7,762.5 L666.8,770.6 L670.8,786.7 L673.8,829.0 L678.9,833.1 L678.9,859.3 L687.9,872.4 L693.0,794.8 L703.0,784.7 L707.1,777.7" fill="none" stroke="#cf3035" stroke-width="1.6" stroke-dasharray="3.4,2" stroke-linejoin="round"/>
<path d="M85.8,676.3 V911.8 H708.8 V676.3" fill="none" stroke="#1a1a1a" stroke-width="1.2"/>
<path d="M85.8,676.3 H88.6" stroke="#1a1a1a" stroke-width="1.2"/>
<path d="M85.8,705.7 H88.6" stroke="#1a1a1a" stroke-width="1.2"/>
<path d="M85.8,735.2 H88.6" stroke="#1a1a1a" stroke-width="1.2"/>
<path d="M85.8,764.6 H88.6" stroke="#1a1a1a" stroke-width="1.2"/>
<path d="M85.8,794.1 H88.6" stroke="#1a1a1a" stroke-width="1.2"/>
<path d="M85.8,823.5 H88.6" stroke="#1a1a1a" stroke-width="1.2"/>
<path d="M85.8,852.9 H88.6" stroke="#1a1a1a" stroke-width="1.2"/>
<path d="M85.8,882.4 H88.6" stroke="#1a1a1a" stroke-width="1.2"/>
<path d="M85.8,911.8 H88.6" stroke="#1a1a1a" stroke-width="1.2"/>
<path d="M708.8,676.3 H705.8" stroke="#1a1a1a" stroke-width="1.2"/>
<path d="M708.8,723.4 H705.8" stroke="#1a1a1a" stroke-width="1.2"/>
<path d="M708.8,770.5 H705.8" stroke="#1a1a1a" stroke-width="1.2"/>
<path d="M708.8,817.6 H705.8" stroke="#1a1a1a" stroke-width="1.2"/>
<path d="M708.8,864.7 H705.8" stroke="#1a1a1a" stroke-width="1.2"/>
<path d="M708.8,911.8 H705.8" stroke="#1a1a1a" stroke-width="1.2"/>
<path d="M148.9,911.8 V908.8" stroke="#1a1a1a" stroke-width="1.2"/>
<path d="M214.7,911.8 V908.8" stroke="#1a1a1a" stroke-width="1.2"/>
<path d="M279.5,911.8 V908.8" stroke="#1a1a1a" stroke-width="1.2"/>
<path d="M343.9,911.8 V908.8" stroke="#1a1a1a" stroke-width="1.2"/>
<path d="M408.7,911.8 V908.8" stroke="#1a1a1a" stroke-width="1.2"/>
<path d="M474.0,911.8 V908.8" stroke="#1a1a1a" stroke-width="1.2"/>
<path d="M538.2,911.8 V908.8" stroke="#1a1a1a" stroke-width="1.2"/>
<path d="M604.2,911.8 V908.8" stroke="#1a1a1a" stroke-width="1.2"/>
<path d="M668.4,911.8 V908.8" stroke="#1a1a1a" stroke-width="1.2"/>
<rect x="150.8" y="676.3" width="36.2" height="7.7" fill="#fde6e6"/>
<path d="M389,680.3 H424" stroke="#cf3035" stroke-width="1.6" stroke-dasharray="3.4,2"/>
</svg>
<div class="t sans" style="left:189px;top:677.5px;font-size:11px;">银行间质押式回购成交量（万亿元）</div>
<div class="t sans" style="left:427px;top:677.5px;font-size:11px;">R001成交量占比（平滑后，MA20，右轴）</div>
<div class="ax" style="left:33px;width:40.5px;text-align:right;top:671.8px;font-size:11px;">9</div>
<div class="ax" style="left:33px;width:40.5px;text-align:right;top:701.2px;font-size:11px;">8</div>
<div class="ax" style="left:33px;width:40.5px;text-align:right;top:730.7px;font-size:11px;">7</div>
<div class="ax" style="left:33px;width:40.5px;text-align:right;top:760.1px;font-size:11px;">6</div>
<div class="ax" style="left:33px;width:40.5px;text-align:right;top:789.6px;font-size:11px;">5</div>
<div class="ax" style="left:33px;width:40.5px;text-align:right;top:819.0px;font-size:11px;">4</div>
<div class="ax" style="left:33px;width:40.5px;text-align:right;top:848.4px;font-size:11px;">3</div>
<div class="ax" style="left:33px;width:40.5px;text-align:right;top:877.9px;font-size:11px;">2</div>
<div class="ax" style="left:33px;width:40.5px;text-align:right;top:907.3px;font-size:11px;">1</div>
<div class="ax" style="left:718.4px;top:671.8px;font-size:11px;">95%</div>
<div class="ax" style="left:718.4px;top:718.9px;font-size:11px;">90%</div>
<div class="ax" style="left:718.4px;top:766.0px;font-size:11px;">85%</div>
<div class="ax" style="left:718.4px;top:813.1px;font-size:11px;">80%</div>
<div class="ax" style="left:718.4px;top:860.2px;font-size:11px;">75%</div>
<div class="ax" style="left:718.4px;top:907.3px;font-size:11px;">70%</div>
<div class="ax" style="left:45.3px;width:80px;text-align:center;top:919.5px;">2022-01</div>
<div class="ax" style="left:108.9px;width:80px;text-align:center;top:919.5px;">2022-05</div>
<div class="ax" style="left:174.7px;width:80px;text-align:center;top:919.5px;">2022-09</div>
<div class="ax" style="left:239.5px;width:80px;text-align:center;top:919.5px;">2023-01</div>
<div class="ax" style="left:303.9px;width:80px;text-align:center;top:919.5px;">2023-05</div>
<div class="ax" style="left:368.7px;width:80px;text-align:center;top:919.5px;">2023-09</div>
<div class="ax" style="left:434px;width:80px;text-align:center;top:919.5px;">2024-01</div>
<div class="ax" style="left:498.2px;width:80px;text-align:center;top:919.5px;">2024-05</div>
<div class="ax" style="left:564.2px;width:80px;text-align:center;top:919.5px;">2024-09</div>
<div class="ax" style="left:628.4px;width:80px;text-align:center;top:919.5px;">2025-01</div>
<div class="abs" style="left:56px;top:934.5px;width:695px;height:1px;background:#c0272d;"></div>
<div class="t src" style="left:57.5px;top:939px;">资料来源：<span class="sans">Wind</span>，华西证券研究所</div>

<!-- footer -->
<div class="abs" style="left:53px;top:1031px;width:681px;height:2px;background:#bd8541;"></div>
<div class="t" style="left:286px;top:1038.5px;font-size:12px;color:#5b3a2a;letter-spacing:0.7px;">请仔细阅读在本报告尾部的重要法律声明</div>
<div class="t sans" style="left:391px;top:1065px;font-size:10.5px;font-weight:bold;font-style:italic;color:#6b2d1d;">14</div>
</body></html>
